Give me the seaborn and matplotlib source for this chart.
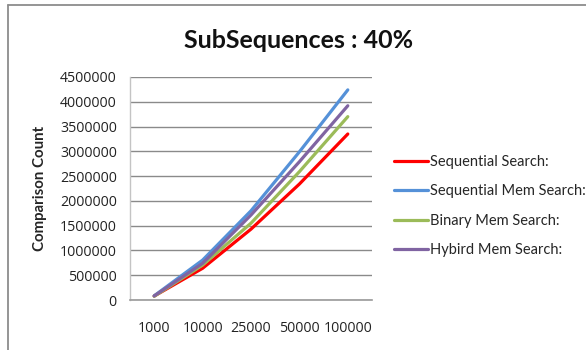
import matplotlib
matplotlib.use("Agg")
import matplotlib.pyplot as plt
from matplotlib.lines import Line2D
import seaborn as sns
import pandas as pd

categories = ["1000", "10000", "25000", "50000", "100000"]
sequential_search = [80000, 640000, 1430000, 2340000, 3350000]
sequential_mem_search = [85000, 805000, 1800000, 2990000, 4240000]
binary_mem_search = [75000, 705000, 1550000, 2590000, 3700000]
hybird_mem_search = [82000, 740000, 1715000, 2790000, 3920000]

series_names = ["Sequential Search:", "Sequential Mem Search:",
                "Binary Mem Search:", "Hybird Mem Search:"]
series_values = [sequential_search, sequential_mem_search,
                 binary_mem_search, hybird_mem_search]
colors = ["#FF0000", "#5591D8", "#9BBB59", "#8064A2"]

rows = []
for name, vals in zip(series_names, series_values):
    for i, v in enumerate(vals):
        rows.append({"pos": i, "value": v, "series": name})
df = pd.DataFrame(rows)

sns.set_theme(style="white")
plt.rcParams["font.family"] = ["Lato", "DejaVu Sans"]

fig = plt.figure(figsize=(5.86, 3.5), dpi=100)
fig.patch.set_facecolor("white")
ax = fig.add_axes([130 / 586, 1 - 300 / 350, 242 / 586, 223 / 350])

sns.lineplot(data=df, x="pos", y="value", hue="series", hue_order=series_names,
             palette=colors, linewidth=2.3, ax=ax, legend=False,
             solid_capstyle="round")

ax.set_xlim(-0.5, len(categories) - 0.5)
ax.set_ylim(0, 4500000)
ax.set_xticks(range(len(categories)))
ax.set_xticklabels(categories, fontfamily="Open Sans", fontsize=10.2)
yt = list(range(0, 4500001, 500000))
ax.set_yticks(yt)
ax.set_yticklabels([str(v) for v in yt], fontfamily="Open Sans", fontsize=10.2)
ax.tick_params(axis="both", length=0, colors="#222222")
ax.tick_params(axis="x", pad=15)
ax.tick_params(axis="y", pad=9.5)
ax.yaxis.grid(True, color="#8a8a8a", linewidth=1.0)
ax.set_axisbelow(True)
for s in ["top", "right"]:
    ax.spines[s].set_visible(False)
ax.spines["left"].set_color("#c4c4c4")
ax.spines["bottom"].set_color("#9a9a9a")
ax.spines["left"].set_linewidth(1.0)
ax.spines["bottom"].set_linewidth(1.2)
ax.set_xlabel("")
ax.set_ylabel("Comparison Count", fontsize=10.8, fontweight="bold", labelpad=9)

fig.text(299 / 586, 1 - 41 / 350, "SubSequences : 40%", fontsize=18,
         fontweight="bold", ha="center", va="center", color="#111111")

handles = [Line2D([0], [0], color=c, lw=2.3) for c in colors]
fig.legend(handles, series_names, loc="center left",
           bbox_to_anchor=(394 / 586, 1 - 206 / 350), frameon=False,
           fontsize=10.5, handlelength=2.3, handletextpad=0.2,
           labelspacing=1.05, borderpad=0, borderaxespad=0)

# chart border
fig.add_artist(Line2D([8 / 586, 8 / 586], [0, 1 - 5 / 350],
                      transform=fig.transFigure, color="#8c8c8c", lw=1.3))
fig.add_artist(Line2D([8 / 586, 1], [1 - 5 / 350, 1 - 5 / 350],
                      transform=fig.transFigure, color="#8c8c8c", lw=1.3))

fig.savefig("out.png", dpi=100, facecolor="white")
